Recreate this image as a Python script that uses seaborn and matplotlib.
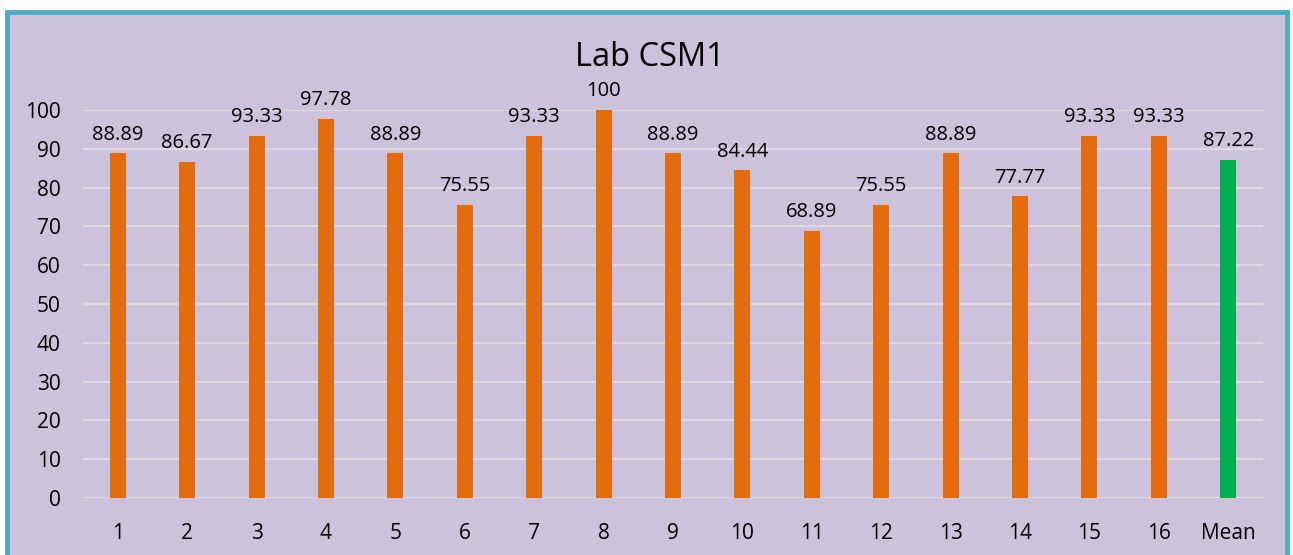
import matplotlib
matplotlib.use("Agg")
import matplotlib.pyplot as plt
import seaborn as sns
import pandas as pd
from matplotlib.patches import Rectangle

# data
labels = [str(i) for i in range(1, 17)] + ["Mean"]
scores = [88.89, 86.67, 93.33, 97.78, 88.89, 75.55, 93.33, 100, 88.89,
          84.44, 68.89, 75.55, 88.89, 77.77, 93.33, 93.33, 87.22]
kind = ["lab"] * 16 + ["mean"]

df = pd.DataFrame({"label": labels, "score": scores, "kind": kind})

bg = "#CCC2DC"
sns.set_style("whitegrid")
plt.rcParams["font.family"] = ["Open Sans", "DejaVu Sans"]

fig = plt.figure(figsize=(12.93, 5.55), dpi=100, facecolor="white")

# outer chart frame
frame = Rectangle((7 / 1293, -0.05), 1280 / 1293, 1.0 - 12 / 555 + 0.05,
                  transform=fig.transFigure, facecolor=bg,
                  edgecolor="#4BACC6", linewidth=3.5, zorder=-10)
fig.patches.append(frame)

ax = fig.add_axes([83 / 1293, 1 - 498 / 555, 1180 / 1293, 388 / 555])
ax.patch.set_alpha(0)

sns.barplot(data=df, x="label", y="score", hue="kind",
            palette={"lab": "#E46C0A", "mean": "#00B050"},
            width=0.23, dodge=False, legend=False, saturation=1,
            linewidth=0, ax=ax, zorder=3)

ax.set_ylim(0, 100)
ax.set_yticks(range(0, 101, 10))
ax.set_xlim(-0.5, len(labels) - 0.5)
ax.grid(axis="y", color="#DCDCE0", linewidth=1.5, zorder=0)
ax.grid(axis="x", visible=False)
ax.set_axisbelow(True)
for s in ax.spines.values():
    s.set_visible(False)
ax.set_xlabel("")
ax.set_ylabel("")
ax.tick_params(axis="both", length=0, labelsize=15, colors="black")
ax.tick_params(axis="x", pad=18)
ax.tick_params(axis="y", pad=16)

for i, v in enumerate(scores):
    txt = f"{v:g}"
    ax.text(i, v + 2.2, txt, ha="center", va="bottom", fontsize=14.5,
            color="black", clip_on=False)

fig.text(650 / 1293, 1 - 58 / 555, "Lab CSM1", ha="center", va="center",
         fontsize=23.5, color="black")

fig.savefig("out.png", dpi=100, facecolor="white")
